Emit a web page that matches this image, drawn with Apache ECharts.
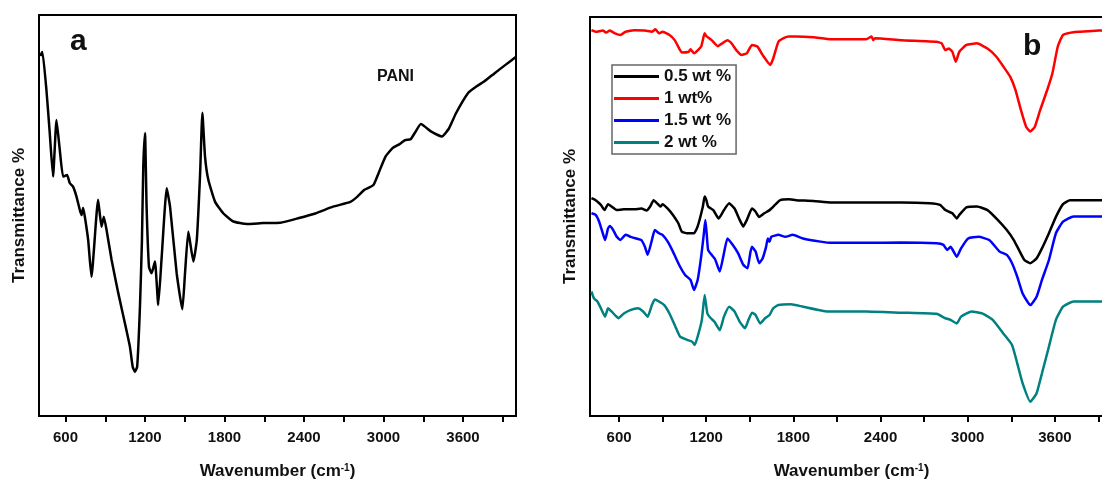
<!DOCTYPE html>
<html>
<head>
<meta charset="utf-8">
<script src="https://cdn.jsdelivr.net/npm/echarts@6/dist/echarts.min.js"></script>
<style>html,body{margin:0;padding:0;background:#fff}#c{width:1102px;height:480px}</style>
</head>
<body>
<div id="c"></div>
<script>
// ---------- DATA ----------
var majorTicks = [600, 1200, 1800, 2400, 3000, 3600];
var allTicks = [600, 900, 1200, 1500, 1800, 2100, 2400, 2700, 3000, 3300, 3600, 3900];

// Panel a: PANI
var paniWave = [410,418,426,456,481,506,532,557,582,612,632,657,683,708,721,733,746,771,796,846,872,889,910,948,998,1048,1086,1107,1124,1141,1162,1177,1187,1200,1212,1230,1250,1275,1300,1326,1364,1389,1439,1482,1502,1527,1565,1591,1616,1633,1653,1678,1729,1792,1867,1969,2094,2221,2355,2485,2619,2750,2803,2856,2924,2962,3015,3068,3121,3163,3204,3242,3282,3361,3441,3494,3547,3640,3706,3759,3839,3918,3998];
var paniT = [89.8,90.4,90.8,81.3,70.6,59.7,73.8,66.3,59.7,60.1,58.1,57.2,54.7,51.4,50.1,51.9,49.7,43.9,34.7,53.9,47.2,49.7,46.4,38.9,30.7,23.2,17.3,12.3,11.0,12.3,27.3,43.9,62.2,70.5,52.2,37.2,35.6,38.5,27.7,39.7,56.8,52.2,35.6,26.6,35.6,46.0,38.5,43.9,60.5,75.6,64.7,58.9,53.4,50.5,48.5,47.9,48.1,48.2,49.3,50.5,52.2,53.4,54.7,56.4,57.6,60.5,64.7,66.8,67.8,68.8,69.0,70.9,72.8,70.9,69.7,71.7,75.5,80.6,82.3,83.4,85.5,87.5,89.5];

// Panel b: composites
var w05 = [410,439,475,500,524,548,584,633,705,754,790,814,838,862,887,899,935,971,1008,1032,1068,1116,1141,1177,1189,1201,1213,1249,1286,1322,1358,1395,1431,1455,1479,1515,1540,1564,1600,1636,1648,1673,1709,1769,1818,1939,2060,2301,2543,2737,2809,2846,2870,2894,2925,2942,2991,3063,3136,3208,3269,3317,3353,3390,3431,3474,3511,3559,3607,3656,3704,3801,3898,4000];
var t05 = [54.6,54.1,52.9,51.6,53.1,52.5,51.6,51.8,51.8,52.0,51.5,52.5,54.1,53.3,52.5,53.1,52.0,50.4,48.3,46.2,45.8,45.8,47.5,52.5,55.0,54.1,52.5,51.6,49.5,51.6,53.3,52.0,49.1,47.5,49.1,52.0,51.2,49.9,50.8,51.6,52.0,52.9,54.1,54.3,54.1,53.9,53.5,53.5,53.5,53.3,52.9,51.6,51.2,50.8,49.5,50.4,52.3,52.5,51.6,49.1,46.6,44.1,41.6,39.1,38.3,39.5,42.0,45.8,49.9,53.1,54.1,54.1,54.1,54.1];

var w1 = [410,439,488,512,536,572,609,645,705,778,826,850,875,899,947,983,1020,1032,1080,1092,1116,1165,1189,1201,1237,1281,1310,1346,1370,1407,1443,1479,1515,1552,1588,1641,1661,1697,1733,1769,1818,1939,2060,2301,2338,2350,2362,2543,2785,2821,2846,2870,2894,2918,2942,2991,3063,3136,3196,3245,3293,3329,3366,3402,3431,3462,3499,3547,3583,3620,3656,3728,3825,3898,4000];
var t1 = [96.7,96.3,96.6,96.1,96.6,95.9,95.5,96.3,96.7,96.6,96.3,96.9,95.9,96.3,95.5,94.2,91.7,91.1,91.3,91.9,90.9,92.6,95.9,95.2,94.2,92.7,93.4,94.2,93.6,91.7,90.5,90.9,93.0,92.6,90.5,88.0,89.6,93.8,94.7,95.1,95.1,94.9,94.4,94.4,95.1,94.2,94.7,94.2,93.8,93.4,91.7,92.1,91.3,88.8,91.3,93.0,93.4,92.1,90.1,87.6,85.0,81.7,76.7,72.5,71.3,72.5,76.7,81.7,85.9,92.6,95.5,96.2,96.4,96.6,96.7];

var w15 = [410,439,463,488,504,524,536,560,584,609,645,681,717,754,778,797,826,846,875,899,935,971,1020,1056,1092,1116,1141,1165,1184,1194,1203,1213,1237,1261,1293,1322,1346,1382,1419,1455,1484,1503,1515,1540,1564,1588,1612,1624,1636,1648,1697,1745,1794,1866,1987,2060,2301,2543,2785,2833,2858,2882,2925,2954,3003,3075,3148,3220,3269,3305,3341,3378,3431,3474,3511,3559,3607,3656,3728,3801,3898,4000];
var t15 = [50.8,50.4,48.7,45.8,44.1,47.0,47.6,46.6,44.9,44.1,45.4,44.9,44.5,44.1,42.4,40.4,44.1,46.6,45.8,45.4,43.7,41.2,37.4,35.3,34.1,31.6,34.1,39.9,45.8,49.1,45.8,41.6,40.4,39.3,36.2,40.8,44.5,42.9,40.8,37.9,37.0,40.8,42.4,41.2,38.3,39.5,42.4,44.5,43.7,44.9,45.4,44.9,45.4,44.5,43.7,43.4,43.4,43.5,43.3,42.9,41.6,42.4,39.9,42.0,44.5,44.9,44.1,41.2,40.4,38.3,34.9,30.7,27.8,29.9,34.1,39.1,45.8,48.7,50.0,50.0,50.0,50.0];

var w2 = [410,427,451,475,504,524,548,572,596,633,681,729,766,797,826,846,875,911,947,983,1020,1068,1104,1121,1141,1170,1189,1208,1232,1257,1293,1322,1358,1395,1431,1467,1491,1515,1540,1571,1605,1636,1661,1697,1782,1866,2035,2301,2543,2785,2846,2882,2925,2954,3027,3099,3172,3245,3305,3341,3378,3431,3474,3511,3559,3607,3656,3728,3801,3898,4000];
var t2 = [31.2,29.5,28.7,27.0,24.9,27.0,26.2,25.3,24.5,25.7,26.6,27.0,26.2,24.9,27.8,29.2,28.7,27.8,25.7,22.8,19.9,19.1,18.6,17.8,19.9,24.1,30.3,25.7,24.5,23.6,21.5,24.9,27.4,26.2,23.6,22.0,24.1,25.9,25.3,23.2,24.5,25.3,27.0,27.8,28.0,27.4,26.2,26.2,25.9,25.6,24.5,24.1,23.2,24.9,26.2,25.7,24.1,20.7,17.8,13.2,8.2,3.6,5.7,10.7,17.4,24.1,27.4,28.7,28.7,28.7,28.7];

var seriesNames = ['0.5 wt %', '1 wt%', '1.5 wt %', '2 wt %'];
var seriesColors = ['#000000', '#ff0000', '#0000ff', '#008080'];

// ---------- BUILD ----------
function pairs(w, t) { return w.map(function (x, i) { return [x, t[i]]; }); }
var FONT = 'Liberation Sans, Arial, Helvetica, sans-serif';

function xAxis(idx) {
  return {
    type: 'value', gridIndex: idx, min: 400, max: 4000,
    name: '{t|Wavenumber (cm}{s|-1}{t|)}',
    nameLocation: 'middle', nameGap: 47,
    nameTextStyle: {
      rich: {
        t: { fontFamily: FONT, fontSize: 17, fontWeight: 'bold', color: '#111' },
        s: { fontFamily: FONT, fontSize: 10, fontWeight: 'bold', color: '#111', verticalAlign: 'top' }
      }
    },
    axisLine: { show: true, lineStyle: { color: '#000', width: 2 } },
    axisTick: { show: true, inside: false, length: 6, lineStyle: { color: '#000', width: 2 }, customValues: allTicks },
    axisLabel: { show: true, customValues: majorTicks, margin: 14, fontFamily: FONT, fontSize: 15, fontWeight: 'bold', color: '#111',
      formatter: function (v) { return String(v); } },
    splitLine: { show: false }
  };
}
function yAxis(idx) {
  return {
    type: 'value', gridIndex: idx, min: 0, max: 100,
    name: 'Transmittance %', nameLocation: 'middle', nameRotate: 90, nameGap: 11,
    nameTextStyle: { fontFamily: FONT, fontSize: 17, fontWeight: 'bold', color: '#111' },
    axisLine: { show: false }, axisTick: { show: false }, axisLabel: { show: false }, splitLine: { show: false }
  };
}

var series = [{
  type: 'line', name: 'PANI', xAxisIndex: 0, yAxisIndex: 0,
  data: pairs(paniWave, paniT), showSymbol: false, symbol: 'none', smooth: 0.15,
  lineStyle: { color: '#000', width: 2.5 }, itemStyle: { color: '#000' }, z: 3
}];
var bW = [w05, w1, w15, w2], bT = [t05, t1, t15, t2];
for (var i = 0; i < 4; i++) {
  series.push({
    type: 'line', name: seriesNames[i], xAxisIndex: 1, yAxisIndex: 1,
    data: pairs(bW[i], bT[i]), showSymbol: false, symbol: 'none', smooth: 0.15,
    lineStyle: { color: seriesColors[i], width: 2.5 }, itemStyle: { color: seriesColors[i] }, z: 3
  });
}

var chart = echarts.init(document.getElementById('c'), null, { renderer: 'canvas' });
chart.setOption({
  animation: false,
  backgroundColor: '#fff',
  grid: [
    { left: 39, top: 15, width: 477, height: 401, show: true, borderColor: '#000', borderWidth: 2, backgroundColor: 'transparent', outerBoundsMode: 'none', containLabel: false },
    { left: 590, top: 17, width: 523, height: 399, show: true, borderColor: '#000', borderWidth: 2, backgroundColor: 'transparent', outerBoundsMode: 'none', containLabel: false }
  ],
  xAxis: [xAxis(0), xAxis(1)],
  yAxis: [yAxis(0), yAxis(1)],
  legend: {
    data: seriesNames, orient: 'vertical', left: 612, top: 65,
    icon: 'rect', itemWidth: 45, itemHeight: 3, itemGap: 5,
    padding: [3, 5, 3, 2], borderColor: '#666', borderWidth: 1.5,
    textStyle: { fontFamily: FONT, fontSize: 17, fontWeight: 'bold', color: '#111', lineHeight: 17 },
    selectedMode: false
  },
  graphic: [
    { type: 'text', left: 70, top: 27, style: { text: 'a', font: 'bold 30px ' + FONT, fill: '#111' } },
    { type: 'text', left: 1023, top: 32, style: { text: 'b', font: 'bold 30px ' + FONT, fill: '#111' } },
    { type: 'text', left: 377, top: 69, style: { text: 'PANI', font: 'bold 16px ' + FONT, fill: '#111' } }
  ],
  series: series
});
</script>
</body>
</html>
